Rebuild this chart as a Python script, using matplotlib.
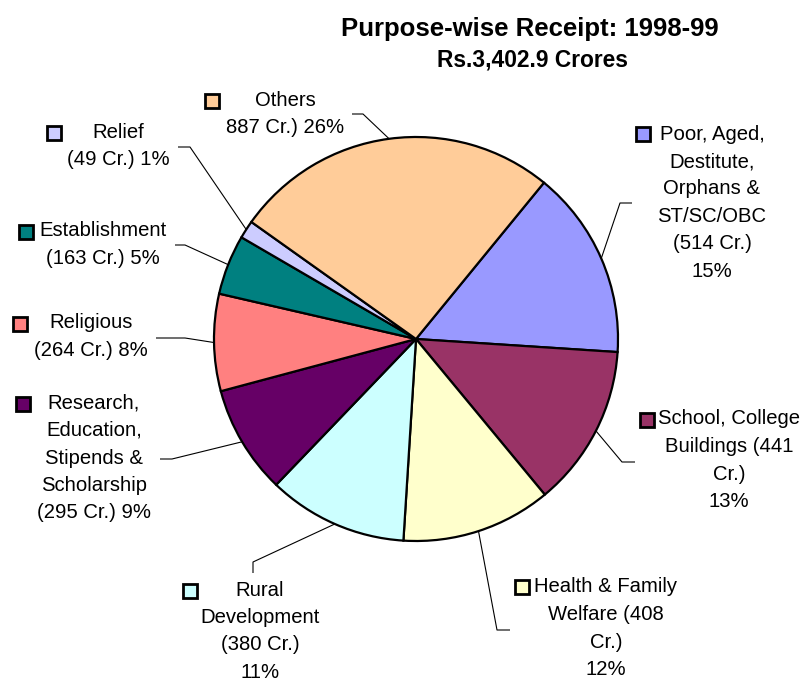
import numpy as np
import matplotlib.pyplot as plt

plt.rcParams['font.family'] = ['Liberation Sans', 'DejaVu Sans']

categories = ['Poor, Aged, Destitute, Orphans & ST/SC/OBC', 'School, College Buildings',
              'Health & Family Welfare', 'Rural Development',
              'Research, Education, Stipends & Scholarship', 'Religious',
              'Establishment', 'Relief', 'Others']
values = [514, 441, 408, 380, 295, 264, 163, 49, 887]
label_lines = [
    ['Poor, Aged,', 'Destitute,', 'Orphans &', 'ST/SC/OBC', '(514 Cr.)', '15%'],
    ['School, College', 'Buildings (441', 'Cr.)', '13%'],
    ['Health & Family', 'Welfare (408', 'Cr.)', '12%'],
    ['Rural', 'Development', '(380 Cr.)', '11%'],
    ['Research,', 'Education,', 'Stipends &', 'Scholarship', '(295 Cr.) 9%'],
    ['Religious', '(264 Cr.) 8%'],
    ['Establishment', '(163 Cr.) 5%'],
    ['Relief', '(49 Cr.) 1%'],
    ['Others', '887 Cr.) 26%'],
]
colors = ['#9999FF', '#993366', '#FFFFCC', '#CCFFFF', '#660066',
          '#FF8080', '#008080', '#CCCCFF', '#FFCC99']

# layout in image pixels (y down): text centre x, first line y, marker, elbow, line end
layout = [
    (712, 134, (643, 134), (620, 203), (632, 203)),
    (729, 419, (647, 420), (622, 462), (635, 462)),
    (606, 587, (522, 587), (497, 630), (510, 630)),
    (260, 590, (190, 591), (253, 562), (253, 573)),
    (94, 403, (23, 404), (172, 459), (160, 459)),
    (91, 323, (20, 324), (185, 338), (156, 338)),
    (103, 231, (26, 232), (185, 245), (175, 245)),
    (118, 132, (54, 133), (190, 147), (178, 147)),
    (285, 100, (212, 101), (363, 114), (352, 114)),
]

W, H = 803, 679
cx, cy, r = 416, 339, 202
step = 27.5

fig = plt.figure(figsize=(W / 100, H / 100), dpi=100)
ax = fig.add_axes([0, 0, 1, 1])

wedges, _ = ax.pie(values, colors=colors, startangle=50.7, counterclock=False,
                   center=(cx, H - cy), radius=r,
                   wedgeprops=dict(edgecolor='black', linewidth=1.6))

for w, lines, (tx, ty, mk, elbow, end) in zip(wedges, label_lines, layout):
    mid = np.deg2rad((w.theta1 + w.theta2) / 2)
    rim = (cx + r * np.cos(mid), H - cy + r * np.sin(mid))
    ax.plot([rim[0], elbow[0], end[0]], [rim[1], H - elbow[1], H - end[1]],
            color='black', lw=0.8, solid_capstyle='butt')
    for i, s in enumerate(lines):
        ax.text(tx, H - (ty + i * step), s, ha='center', va='center',
                fontsize=14.6, color='black')
    ax.plot(mk[0], H - mk[1], marker='s', markersize=9.5, markerfacecolor=w.get_facecolor(),
            markeredgecolor='black', markeredgewidth=2)

ax.text(530, H - 29, 'Purpose-wise Receipt: 1998-99', ha='center', va='center',
        fontsize=18.5, fontweight='bold')
ax.text(532, H - 60, 'Rs.3,402.9 Crores', ha='center', va='center',
        fontsize=16.4, fontweight='bold')

ax.set_xlim(0, W)
ax.set_ylim(0, H)
ax.set_aspect('equal')
ax.axis('off')

fig.savefig('out.png', dpi=100, facecolor='white')
